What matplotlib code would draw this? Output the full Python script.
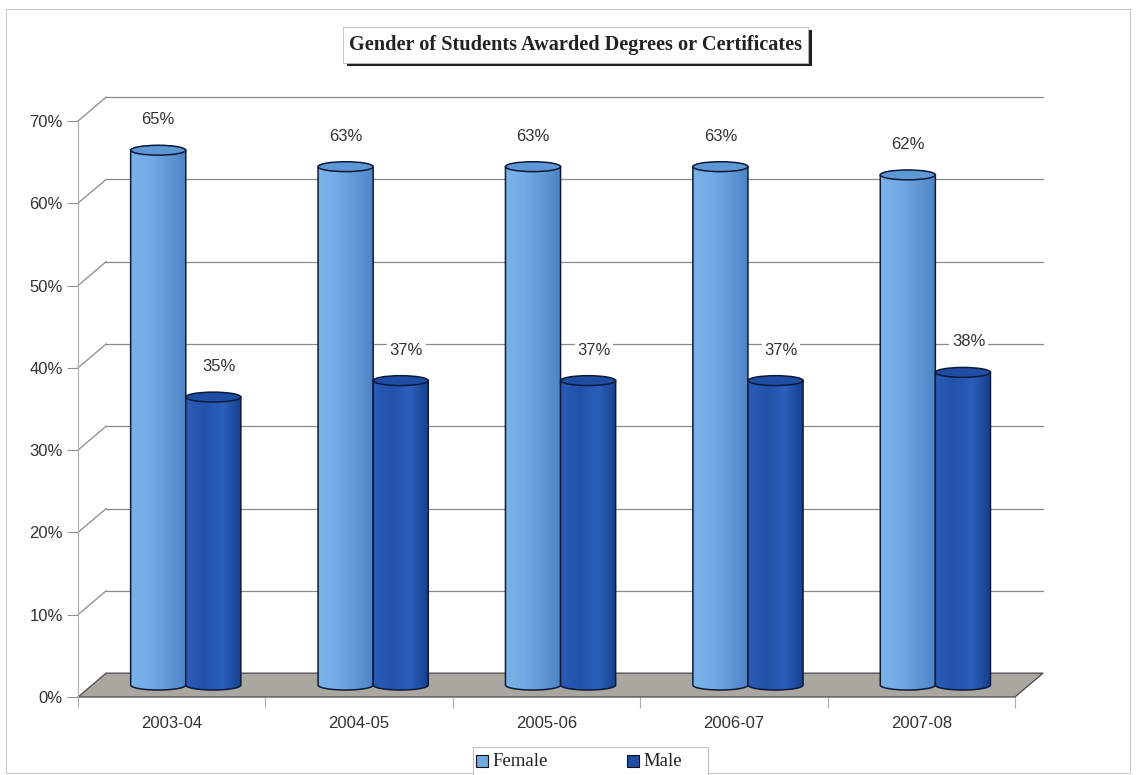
"""
Gender of students awarded degrees or certificates - 3D cylinder column chart.
Saves out.png.
"""
import numpy as np
import matplotlib
matplotlib.use("Agg")
import matplotlib.pyplot as plt
from matplotlib.patches import Polygon, Ellipse, Rectangle, PathPatch
from matplotlib.path import Path

years = ["2003-04", "2004-05", "2005-06", "2006-07", "2007-08"]
female = [65, 63, 63, 63, 62]
male = [35, 37, 37, 37, 38]
yticks = [0, 10, 20, 30, 40, 50, 60, 70]

SANS = ["Liberation Sans", "DejaVu Sans"]
SERIF = ["Liberation Serif", "DejaVu Serif"]

# depth offset of the back wall, in data units
DX, DY = 0.15, 2.9
W = 0.294          # cylinder width (category units)
EH = 1.2           # ellipse height (percent units)

fig = plt.figure(figsize=(11.36, 7.75), dpi=100)
fig.patch.set_facecolor("white")

# outer chart frame
fig.add_artist(Rectangle((6 / 1136, 2 / 775), 1124 / 1136, 764 / 775,
                         transform=fig.transFigure, fill=False,
                         edgecolor="#c8c8c8", lw=0.8))

ax = fig.add_axes([78 / 1136, 78 / 775, (1015 - 78) / 1136, (697 - 121) / 775])
ax.set_xlim(-0.5, 4.5)
ax.set_ylim(0, 70)
ax.set_facecolor("none")
for s in ["top", "right", "bottom"]:
    ax.spines[s].set_visible(False)
ax.spines["left"].set_color("#b0b0b0")
ax.spines["left"].set_linewidth(0.8)

ax.set_yticks(yticks)
ax.set_yticklabels([f"{v}%" for v in yticks], family=SANS, fontsize=12, color="#333333")
ax.tick_params(axis="y", length=8, width=0.8, color="#909090", pad=3)
ax.set_xticks(range(len(years)))
ax.set_xticklabels(years, family=SANS, fontsize=12, color="#333333")
ax.tick_params(axis="x", length=0, pad=14)
ax.set_xticks(np.arange(-0.5, 5, 1), minor=True)
ax.tick_params(axis="x", which="minor", length=8, width=0.8, color="#b0b0b0")

# back wall gridlines + left wall diagonals
x0, x1 = -0.5, 4.5
for v in yticks[1:]:
    ax.plot([x0, x0 + DX], [v, v + DY], color="#8a8a8a", lw=0.9, clip_on=False, zorder=1)
    ax.plot([x0 + DX, x1 + DX], [v + DY, v + DY], color="#8a8a8a", lw=0.9,
            clip_on=False, zorder=1)

# floor
floor = Polygon([(x0, 0), (x1, 0), (x1 + DX, DY), (x0 + DX, DY)], closed=True,
                facecolor="#a9a7a0", edgecolor="#4a4a4a", lw=0.9, clip_on=False, zorder=2)
ax.add_patch(floor)


def cylinder(cx, val, cmap_cols, top_col, z):
    base = DY / 2
    top = val + DY / 2
    t = np.linspace(np.pi, 2 * np.pi, 40)
    arc = np.column_stack([cx + W / 2 * np.cos(t), base + EH / 2 * np.sin(t)])
    verts = np.vstack([[cx - W / 2, top], arc, [cx + W / 2, top], [cx - W / 2, top]])
    body = PathPatch(Path(verts, closed=True), facecolor="none",
                     edgecolor="#0c1a3a", lw=1.1, zorder=z + 0.2)
    ax.add_patch(body)
    grad = np.linspace(0, 1, 64).reshape(1, -1)
    cm = matplotlib.colors.LinearSegmentedColormap.from_list("c", cmap_cols)
    im = ax.imshow(grad, cmap=cm, aspect="auto", zorder=z,
                   extent=(cx - W / 2, cx + W / 2, base - EH, top))
    im.set_clip_path(body)
    ax.add_patch(Ellipse((cx, top), W, EH, facecolor=top_col,
                         edgecolor="#0c1a3a", lw=1.1, zorder=z + 0.3))


fem_cols = ["#7ab2e8", "#72abe5", "#6199d8", "#4d83c2"]
male_cols = ["#2a5cb6", "#2253ab", "#2a5fba", "#173f8c"]
for i in range(len(years)):
    cylinder(i - W / 2 + DX / 2, female[i], fem_cols, "#5e97d6", 3)
    cylinder(i + W / 2 + DX / 2, male[i], male_cols, "#1f4da3", 4)
    for val, cx in [(female[i], i - W / 2 + DX / 2), (male[i], i + W / 2 + DX / 2 + 0.03)]:
        ax.text(cx, val + DY / 2 + 3.7, f"{val}%", ha="center", va="center",
                family=SANS, fontsize=12, color="#333333", zorder=6,
                bbox=dict(boxstyle="square,pad=0.15", fc="white", ec="none"))

ax.set_xlim(-0.5, 4.5)
ax.set_ylim(0, 70)

# title box with shadow
fig.add_artist(Rectangle((347 / 1136, (775 - 66) / 775), 465 / 1136, 36 / 775,
                         transform=fig.transFigure, facecolor="#222222",
                         edgecolor="none"))
fig.add_artist(Rectangle((343 / 1136, (775 - 63) / 775), 465 / 1136, 36 / 775,
                         transform=fig.transFigure, facecolor="white",
                         edgecolor="#bbbbbb", lw=0.6))
fig.text(575.5 / 1136, (775 - 45) / 775, "Gender of Students Awarded Degrees or Certificates",
         ha="center", va="center", family=SERIF, fontsize=14.6, fontweight="bold",
         color="#222222")

# legend
fig.add_artist(Rectangle((473 / 1136, -5 / 775), 235 / 1136, 33 / 775,
                         transform=fig.transFigure, facecolor="white",
                         edgecolor="#c0c0c0", lw=0.8))
for lx, col, name in [(476, "#6fa9e2", "Female"), (627, "#1f4da3", "Male")]:
    fig.add_artist(Rectangle((lx / 1136, 8 / 775), 12 / 1136, 12 / 775,
                             transform=fig.transFigure, facecolor=col,
                             edgecolor="#111111", lw=0.8))
    fig.text((lx + 16) / 1136, 13.5 / 775, name, ha="left", va="center",
             family=SERIF, fontsize=13.5, color="#222222")

fig.savefig("out.png", dpi=100)
